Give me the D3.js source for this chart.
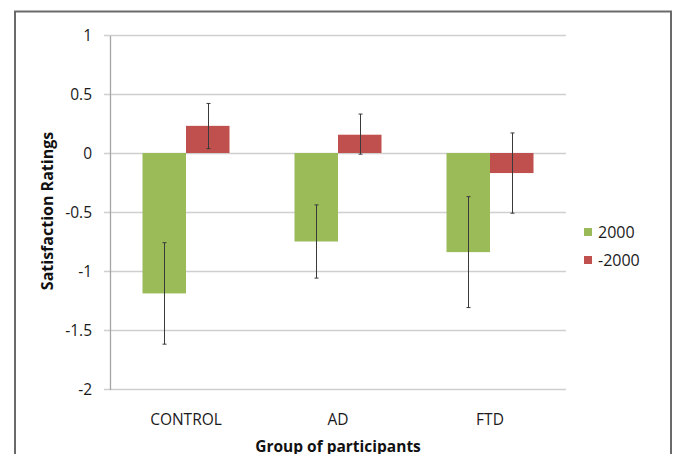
<!DOCTYPE html>
<html><head><meta charset="utf-8">
<script src="https://cdnjs.cloudflare.com/ajax/libs/d3/7.8.5/d3.min.js"></script>
<style>body{margin:0;background:#fff}svg{display:block}</style>
</head><body><svg id="c" width="673" height="454"></svg>
<script>
const categories = ["CONTROL", "AD", "FTD"];
const seriesNames = ["2000", "-2000"];
const seriesColors = ["#9bbb59", "#c0504d"];
const values2000 = [-1.19, -0.75, -0.84];
const valuesMinus2000 = [0.23, 0.155, -0.17];
const errLow2000 = [-1.62, -1.06, -1.31];
const errHigh2000 = [-0.76, -0.44, -0.37];
const errLowMinus2000 = [0.037, -0.01, -0.51];
const errHighMinus2000 = [0.42, 0.33, 0.17];
const yTicks = [1, 0.5, 0, -0.5, -1, -1.5, -2];
const yTickLabels = ["1", "0.5", "0", "-0.5", "-1", "-1.5", "-2"];

(function () {
const series = [
  {name: seriesNames[0], color: seriesColors[0], vals: values2000, lo: errLow2000, hi: errHigh2000},
  {name: seriesNames[1], color: seriesColors[1], vals: valuesMinus2000, lo: errLowMinus2000, hi: errHighMinus2000}
];

const svg = d3.select("#c");
const font = "'Open Sans', 'Liberation Sans', sans-serif";

// outer frame
svg.append("rect").attr("x", 15).attr("y", 11.5).attr("width", 656).attr("height", 460)
  .attr("fill", "none").attr("stroke", "#6a6a6a").attr("stroke-width", 2);

const pL = 110, pR = 566, pT = 35, pB = 389;
const y = d3.scaleLinear().domain([-2, 1]).range([pB, pT]);
const x = d3.scaleBand().domain(categories).range([pL, pR]).paddingInner(0).paddingOuter(0);
const inner = d3.scaleBand().domain(seriesNames).range([0, x.bandwidth()]).paddingInner(0).paddingOuter(0.747);

// gridlines
svg.append("g").selectAll("line").data(yTicks).join("line")
  .attr("x1", pL - 6).attr("x2", pR).attr("y1", d => y(d) + 0.5).attr("y2", d => y(d) + 0.5)
  .attr("stroke", "#cfcfcf").attr("stroke-width", 1.3);

// y axis
const yAxis = d3.axisLeft(y).tickValues(yTicks).tickFormat((d, i) => yTickLabels[i]).tickSize(0).tickPadding(18);
const ga = svg.append("g").attr("transform", `translate(${pL},0.5)`).call(yAxis);
ga.select(".domain").attr("stroke", "#a6a6a6").attr("stroke-width", 1.3);
ga.selectAll("text").attr("font-family", font).attr("font-size", 15.5).attr("fill", "#1a1a1a");

// bars
series.forEach(s => {
  svg.append("g").selectAll("rect").data(categories).join("rect")
    .attr("x", (c) => x(c) + inner(s.name))
    .attr("width", inner.bandwidth())
    .attr("y", (c, i) => y(Math.max(0, s.vals[i])))
    .attr("height", (c, i) => Math.abs(y(s.vals[i]) - y(0)))
    .attr("fill", s.color);
});

// error bars
series.forEach(s => {
  const g = svg.append("g").attr("stroke", "#3a3a3a").attr("stroke-width", 1);
  categories.forEach((c, i) => {
    const cx = Math.round(x(c) + inner(s.name) + inner.bandwidth() / 2) + 0.5;
    g.append("line").attr("x1", cx).attr("x2", cx).attr("y1", y(s.hi[i])).attr("y2", y(s.lo[i]));
    g.append("line").attr("x1", cx - 2).attr("x2", cx + 2).attr("y1", y(s.hi[i])).attr("y2", y(s.hi[i]));
    g.append("line").attr("x1", cx - 2).attr("x2", cx + 2).attr("y1", y(s.lo[i])).attr("y2", y(s.lo[i]));
  });
});

// category labels
svg.append("g").selectAll("text").data(categories).join("text")
  .attr("x", c => x(c) + x.bandwidth() / 2).attr("y", 424.5)
  .attr("text-anchor", "middle").attr("font-family", font).attr("font-size", 15.5).attr("fill", "#1a1a1a")
  .text(c => c);

// axis titles
svg.append("text").attr("x", (pL + pR) / 2).attr("y", 452).attr("text-anchor", "middle")
  .attr("font-family", font).attr("font-size", 15.5).attr("font-weight", "bold").attr("fill", "#111")
  .text("Group of participants");
svg.append("text").attr("transform", "translate(53,211) rotate(-90)").attr("text-anchor", "middle")
  .attr("font-family", font).attr("font-size", 16).attr("font-weight", "bold").attr("fill", "#111")
  .text("Satisfaction Ratings");

// legend
const lg = svg.append("g").selectAll("g").data(series).join("g")
  .attr("transform", (d, i) => `translate(584,${228 + i * 28})`);
lg.append("rect").attr("width", 8).attr("height", 8).attr("fill", d => d.color);
lg.append("text").attr("x", 14).attr("y", 9.5).attr("font-family", font).attr("font-size", 16).attr("fill", "#1a1a1a")
  .text(d => d.name);
})();
</script></body></html>
